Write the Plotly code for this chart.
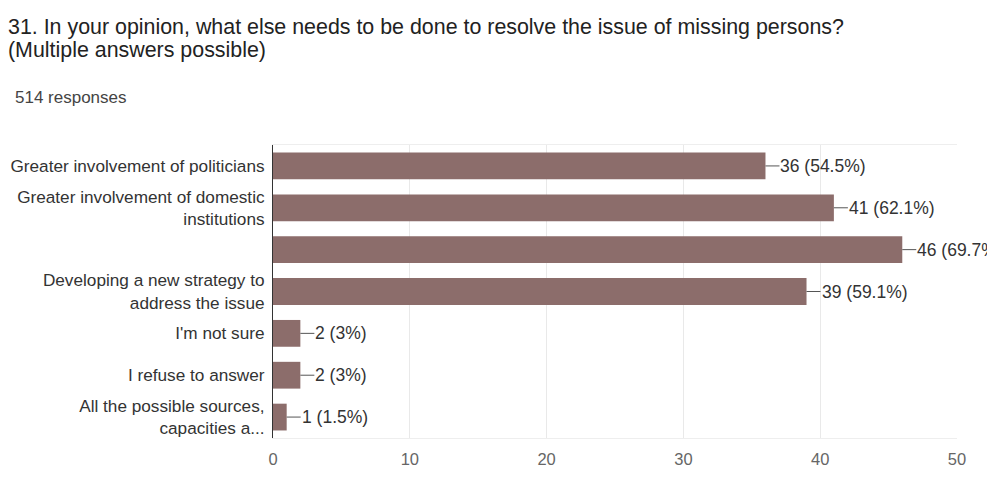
import plotly.graph_objects as go

# chart data
categories = [
    "Greater involvement of politicians",
    "Greater involvement of domestic<br>institutions",
    " ",
    "Developing a new strategy to<br>address the issue",
    "I'm not sure",
    "I refuse to answer",
    "All the possible sources,<br>capacities a...",
]
counts = [36, 41, 46, 39, 2, 2, 1]
labels = ["36 (54.5%)", "41 (62.1%)", "46 (69.7%)", "39 (59.1%)",
          "2 (3%)", "2 (3%)", "1 (1.5%)"]
x_ticks = [0, 10, 20, 30, 40, 50]

title_lines = ["31. In your opinion, what else needs to be done to resolve the issue of missing persons?",
               "(Multiple answers possible)"]
subtitle = "514 responses"

BAR = "#8c6d6b"
FONT = "Liberation Sans, Arial, sans-serif"

# page has an 8px body margin, so the figure is sized/offset to compensate
OFF = 8
W, H = 995 - OFF, 485 - OFF
ML, MR, MT, MB = 273 - OFF, 38, 145 - OFF, 47

fig = go.Figure(go.Bar(
    x=counts,
    y=categories,
    orientation="h",
    marker=dict(color=BAR, line=dict(width=0)),
    hoverinfo="x+y",
))

# value labels with short leader line
for c, cat, lab in zip(counts, categories, labels):
    fig.add_annotation(
        x=c, y=cat, xref="x", yref="y",
        text=lab, showarrow=True, arrowhead=0, arrowwidth=1,
        arrowcolor="#555", ax=14, ay=0, xanchor="left",
        borderpad=0, font=dict(size=17.5, color="#333", family=FONT),
    )

fig.update_layout(
    width=W, height=H,
    margin=dict(l=ML, r=MR, t=MT, b=MB, autoexpand=False),
    paper_bgcolor="white", plot_bgcolor="white",
    font=dict(family=FONT, size=17, color="#333"),
    showlegend=False,
    bargap=0.36,
)

plot_w = W - ML - MR
plot_h = H - MT - MB


def px_x(p):
    # page pixel -> paper coordinate
    return (p - OFF - ML) / plot_w


def px_y(p):
    return (H - MB - (p - OFF)) / plot_h


# title and response count
fig.add_annotation(x=px_x(6), y=px_y(27), xref="paper", yref="paper",
                   text=title_lines[0], showarrow=False, xanchor="left", yanchor="middle",
                   font=dict(size=21.4, color="#222", family=FONT))
fig.add_annotation(x=px_x(6), y=px_y(50), xref="paper", yref="paper",
                   text=title_lines[1], showarrow=False, xanchor="left", yanchor="middle",
                   font=dict(size=21.4, color="#222", family=FONT))
fig.add_annotation(x=px_x(13), y=px_y(97), xref="paper", yref="paper",
                   text=subtitle, showarrow=False, xanchor="left", yanchor="middle",
                   font=dict(size=17, color="#444", family=FONT))

fig.update_xaxes(
    range=[0, 50], tickvals=x_ticks,
    showgrid=True, gridcolor="#e9e9e9", gridwidth=1,
    zeroline=False, showline=True, mirror=True, linecolor="#eeeeee",
    tickfont=dict(size=16.5, color="#666"), ticks="", ticklabelstandoff=6,
    automargin=False,
)
fig.update_yaxes(
    autorange="reversed", showgrid=False, zeroline=False,
    showline=True, linecolor="#333", linewidth=1,
    ticks="", ticklabelstandoff=4, automargin=False,
    tickfont=dict(size=17.2, color="#333"),
)

fig.write_html("out.html")
